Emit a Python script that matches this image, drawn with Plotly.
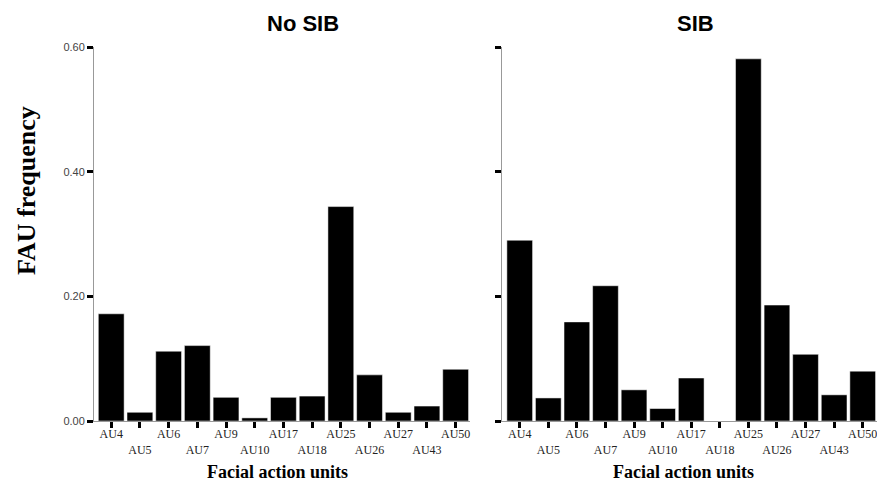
import plotly.graph_objects as go

categories = ["AU4", "AU5", "AU6", "AU7", "AU9", "AU10", "AU17", "AU18",
              "AU25", "AU26", "AU27", "AU43", "AU50"]
no_sib = [0.172, 0.014, 0.112, 0.121, 0.038, 0.005, 0.038, 0.040,
          0.344, 0.074, 0.014, 0.024, 0.083]
sib = [0.290, 0.037, 0.159, 0.217, 0.050, 0.020, 0.069, 0.0,
       0.581, 0.186, 0.107, 0.042, 0.080]
y_ticks = [0.0, 0.2, 0.4, 0.6]
y_ticktext = ["0.00", "0.20", "0.40", "0.60"]

W, H = 877, 483


def px(x):
    return x / W


def py(y):
    return 1 - y / H


idx = list(range(len(categories)))
ticktext = [c if i % 2 == 0 else "<br>" + c for i, c in enumerate(categories)]

fig = go.Figure()
fig.add_trace(go.Bar(x=idx, y=no_sib, marker=dict(color="black", line=dict(color="white", width=0.5)),
                     xaxis="x", yaxis="y", showlegend=False, cliponaxis=False))
fig.add_trace(go.Bar(x=idx, y=sib, marker=dict(color="black", line=dict(color="white", width=0.5)),
                     xaxis="x2", yaxis="y2", showlegend=False, cliponaxis=False))

ydom = [py(421), py(47)]
xcommon = dict(tickvals=idx, ticktext=ticktext, ticks="outside",
               ticklen=6, tickwidth=3, tickcolor="black", showline=True, linecolor="#999",
               linewidth=1, showgrid=False, zeroline=False, tickangle=0, automargin=False,
               ticklabeloverflow="allow", ticklabelstandoff=-4,
               tickfont=dict(family="Liberation Serif", size=12, color="#222"))
ycommon = dict(range=[0, 0.6], tickvals=y_ticks, ticktext=y_ticktext, ticks="outside",
               ticklen=6, tickwidth=3, tickcolor="black", showline=True, linecolor="#999",
               linewidth=1, showgrid=False, zeroline=False, domain=ydom, automargin=False,
               tickfont=dict(family="Liberation Sans", size=11, color="#444"))

fig.update_layout(
    width=W, height=H, margin=dict(l=0, r=0, t=0, b=0),
    paper_bgcolor="white", plot_bgcolor="white", bargap=0.1,
    xaxis=dict(domain=[px(94), px(470)], anchor="y", range=[-0.6, 12.5], **xcommon),
    xaxis2=dict(domain=[px(502), 1.0], anchor="y2", range=[-0.62, 12.5], **xcommon),
    yaxis=dict(anchor="x", **ycommon),
    yaxis2=dict(anchor="x2", showticklabels=False, **{k: v for k, v in ycommon.items() if k != "tickfont"}),
)

ann = [
    dict(text="<b>No SIB</b>", x=px(303), y=py(23), font=dict(family="Liberation Sans", size=22, color="black")),
    dict(text="<b>SIB</b>", x=px(695), y=py(23), font=dict(family="Liberation Sans", size=22, color="black")),
    dict(text="<b>Facial action units</b>", x=px(277), y=py(472), font=dict(family="Liberation Serif", size=18, color="black")),
    dict(text="<b>Facial action units</b>", x=px(683), y=py(472), font=dict(family="Liberation Serif", size=18, color="black")),
    dict(text="<b>FAU frequency</b>", x=px(26), y=py(191), textangle=-90, font=dict(family="Liberation Serif", size=26, color="black")),
]
for a in ann:
    fig.add_annotation(xref="paper", yref="paper", showarrow=False, xanchor="center", yanchor="middle", **a)

fig.write_html("out.html", config={"displayModeBar": False},
               post_script="document.body.style.margin='0';document.body.style.overflow='hidden';")
